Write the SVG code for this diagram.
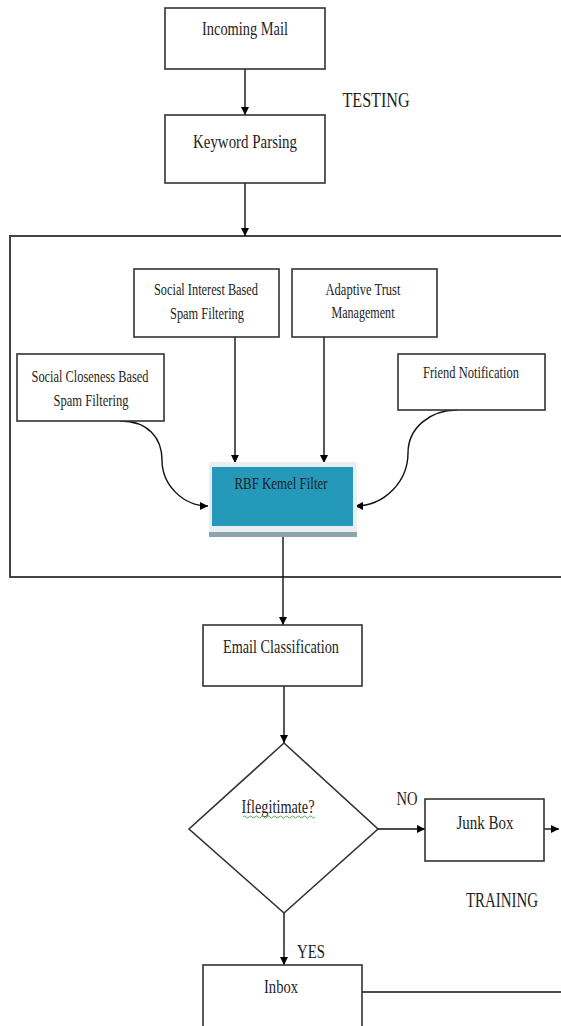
<svg xmlns="http://www.w3.org/2000/svg" width="561" height="1026" viewBox="0 0 561 1026">
<style>
.box{fill:#fff;stroke:#333;stroke-width:1.6}
.frame{fill:none;stroke:#444;stroke-width:2}
.t{font-family:"Liberation Serif","Times New Roman",serif;fill:#1e1e1e;text-anchor:middle}
.m{font-size:18px}
.s{font-size:17px}
.b{font-size:20px}
.c{fill:none;stroke:#111;stroke-width:1.4}
</style>
<defs>
<marker id="ah" viewBox="0 0 10 10" refX="10" refY="5" markerWidth="8" markerHeight="8" markerUnits="userSpaceOnUse" orient="auto">
<path d="M0,0 L10,5 L0,10 Z" fill="#000"/>
</marker>
</defs>
<rect x="0" y="0" width="561" height="1026" fill="#fff"/>

<g id="frame">
<path class="frame" d="M563,236 H10 V577 H563"/>
</g>

<g id="connectors">
<line class="c" x1="245" y1="69" x2="245" y2="115" marker-end="url(#ah)"/>
<line class="c" x1="245" y1="183" x2="245" y2="236" marker-end="url(#ah)"/>
<line class="c" x1="235" y1="337" x2="235" y2="463" marker-end="url(#ah)"/>
<line class="c" x1="324" y1="337" x2="324" y2="463" marker-end="url(#ah)"/>
<path class="c" d="M120,421 C148,421 162,438 162,460 C162,485 183,506 208,506" marker-end="url(#ah)"/>
<path class="c" d="M457,410 C430,410 408,428 408,453 C408,481 385,506 355,506" marker-end="url(#ah)"/>
<line class="c" x1="283" y1="537" x2="283" y2="625" marker-end="url(#ah)"/>
<line class="c" x1="284" y1="686" x2="284" y2="743" marker-end="url(#ah)"/>
<line class="c" x1="378" y1="829" x2="425" y2="829" marker-end="url(#ah)"/>
<line class="c" x1="544" y1="829" x2="559" y2="829" marker-end="url(#ah)"/>
<line class="c" x1="284" y1="913" x2="284" y2="965" marker-end="url(#ah)"/>
<line class="c" x1="362" y1="992" x2="561" y2="992" stroke="#333" stroke-width="2"/>
</g>

<g id="incoming-mail">
<rect class="box" x="165" y="8" width="160" height="61"/>
<text class="t m" x="245" y="35" textLength="86" lengthAdjust="spacingAndGlyphs">Incoming Mail</text>
</g>

<g id="keyword-parsing">
<rect class="box" x="165" y="115" width="160" height="68"/>
<text class="t m" x="245" y="148" textLength="104" lengthAdjust="spacingAndGlyphs">Keyword Parsing</text>
</g>

<g id="testing-label">
<text class="t b" x="376" y="107" textLength="67" lengthAdjust="spacingAndGlyphs">TESTING</text>
</g>

<g id="social-interest">
<rect class="box" x="134" y="269" width="145" height="68"/>
<text class="t s" x="206" y="295" textLength="104" lengthAdjust="spacingAndGlyphs">Social Interest Based</text>
<text class="t s" x="207" y="319" textLength="74" lengthAdjust="spacingAndGlyphs">Spam Filtering</text>
</g>

<g id="adaptive-trust">
<rect class="box" x="292" y="269" width="145" height="68"/>
<text class="t s" x="363" y="295" textLength="75" lengthAdjust="spacingAndGlyphs">Adaptive Trust</text>
<text class="t s" x="363" y="318" textLength="63" lengthAdjust="spacingAndGlyphs">Management</text>
</g>

<g id="social-closeness">
<rect class="box" x="17" y="354" width="147" height="67"/>
<text class="t s" x="90" y="382" textLength="117" lengthAdjust="spacingAndGlyphs">Social Closeness Based</text>
<text class="t s" x="91" y="406" textLength="75" lengthAdjust="spacingAndGlyphs">Spam Filtering</text>
</g>

<g id="friend-notification">
<rect class="box" x="398" y="354" width="147" height="56"/>
<text class="t s" x="471" y="378" textLength="96" lengthAdjust="spacingAndGlyphs">Friend Notification</text>
</g>

<g id="rbf-kernel-filter">
<rect x="209" y="462" width="148" height="75" fill="#e9eef0"/>
<rect x="209" y="532" width="148" height="5" fill="#8ea4ad"/>
<rect x="212" y="467" width="141" height="59" fill="#2499b9"/>
<text class="t s" x="281" y="489" textLength="93" lengthAdjust="spacingAndGlyphs">RBF Kemel Filter</text>
</g>

<g id="email-classification">
<rect class="box" x="203" y="625" width="159" height="61"/>
<text class="t m" x="281" y="653" textLength="116" lengthAdjust="spacingAndGlyphs">Email Classification</text>
</g>

<g id="decision">
<polygon points="284,743 378,829 284,913 189,829" fill="#fff" stroke="#333" stroke-width="1.6"/>
<text class="t m" x="278" y="813" textLength="73" lengthAdjust="spacingAndGlyphs">Iflegitimate?</text>
<path d="M243,817 q1.5,-2 3,0 t3,0 t3,0 t3,0 t3,0 t3,0 t3,0 t3,0 t3,0 t3,0 t3,0 t3,0 t3,0 t3,0 t3,0 t3,0 t3,0 t3,0 t3,0 t3,0 t3,0 t3,0 t3,0 t3,0" fill="none" stroke="#5fa35f" stroke-width="1"/>
</g>

<g id="no-label">
<text class="t m" x="407" y="805" textLength="21" lengthAdjust="spacingAndGlyphs">NO</text>
</g>

<g id="junk-box">
<rect class="box" x="425" y="799" width="119" height="62"/>
<text class="t m" x="485" y="829" textLength="57" lengthAdjust="spacingAndGlyphs">Junk Box</text>
</g>

<g id="training-label">
<text class="t b" x="502" y="907" textLength="72" lengthAdjust="spacingAndGlyphs">TRAINING</text>
</g>

<g id="yes-label">
<text class="t m" x="311" y="958" textLength="28" lengthAdjust="spacingAndGlyphs">YES</text>
</g>

<g id="inbox">
<rect class="box" x="203" y="965" width="159" height="70"/>
<text class="t m" x="281" y="993" textLength="34" lengthAdjust="spacingAndGlyphs">Inbox</text>
</g>
</svg>
